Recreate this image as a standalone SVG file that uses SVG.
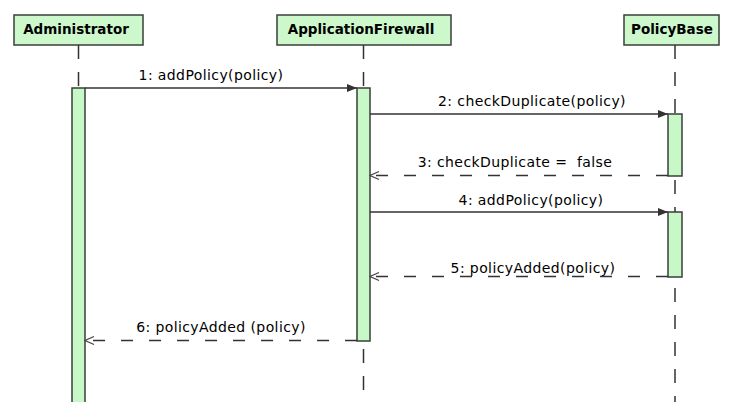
<svg xmlns="http://www.w3.org/2000/svg" width="741" height="402" viewBox="0 0 741 402">
  <style>
    .head { fill: #ccf8cc; stroke: #3a3f3a; stroke-width: 1.5; }
    .act { fill: #c8f8c8; stroke: #3a3f3a; stroke-width: 1.5; }
    .life { stroke: #333; stroke-width: 1.5; stroke-dasharray: 14 13; fill: none; }
    .htext { font-family: "DejaVu Sans", Verdana, sans-serif; font-weight: bold; font-size: 13.5px; fill: #000; text-anchor: middle; }
    .mtext { font-family: "DejaVu Sans", Verdana, sans-serif; font-size: 14px; letter-spacing: 0.4px; fill: #000; text-anchor: middle; white-space: pre; }
    .call { stroke: #333; stroke-width: 1.6; fill: none; marker-end: url(#solid); }
    .ret { stroke: #333; stroke-width: 1.6; fill: none; stroke-dasharray: 12 16; marker-end: url(#open); }
  </style>
  <defs>
    <marker id="solid" markerWidth="11" markerHeight="9" refX="10" refY="4" orient="auto" markerUnits="userSpaceOnUse">
      <path d="M0,0 L10,4 L0,8 z" fill="#333"/>
    </marker>
    <marker id="open" markerWidth="11" markerHeight="11" refX="9.5" refY="5" orient="auto" markerUnits="userSpaceOnUse">
      <path d="M0.5,1 L9.5,5 L0.5,9" fill="none" stroke="#444" stroke-width="1.3"/>
    </marker>
  </defs>
  <rect x="0" y="0" width="741" height="402" fill="#fff"/>

  <g id="administrator">
    <line class="life" x1="78.5" y1="45" x2="78.5" y2="88"/>
    <rect class="head" x="14" y="15" width="129" height="30"/>
    <text class="htext" x="76" y="34">Administrator</text>
    <rect class="act" x="72" y="88" width="13" height="320"/>
  </g>

  <g id="applicationfirewall">
    <line class="life" x1="363.5" y1="45" x2="363.5" y2="88"/>
    <line class="life" x1="363.5" y1="349" x2="363.5" y2="402"/>
    <rect class="head" x="277" y="15" width="174" height="30"/>
    <text class="htext" x="361" y="34">ApplicationFirewall</text>
    <rect class="act" x="357" y="88" width="13" height="253"/>
  </g>

  <g id="policybase">
    <line class="life" x1="675" y1="45" x2="675" y2="402"/>
    <rect class="head" x="624" y="15" width="95" height="30"/>
    <text class="htext" x="672" y="34">PolicyBase</text>
    <rect class="act" x="668" y="114" width="14" height="62"/>
    <rect class="act" x="668" y="212" width="14" height="65"/>
  </g>

  <g id="connectors">
    <line class="call" x1="85" y1="88" x2="357" y2="88"/>
    <text class="mtext" x="211" y="80">1: addPolicy(policy)</text>

    <line class="call" x1="370" y1="114" x2="668" y2="114"/>
    <text class="mtext" x="532" y="106">2: checkDuplicate(policy)</text>

    <line class="ret" x1="668" y1="175.5" x2="370" y2="175.5"/>
    <text class="mtext" x="515" y="166.5" xml:space="preserve">3: checkDuplicate =  false</text>

    <line class="call" x1="370" y1="212" x2="668" y2="212"/>
    <text class="mtext" x="531" y="204.5">4: addPolicy(policy)</text>

    <line class="ret" x1="668" y1="276.5" x2="370" y2="276.5"/>
    <text class="mtext" x="533" y="273">5: policyAdded(policy)</text>

    <line class="ret" x1="357" y1="340.5" x2="85" y2="340.5"/>
    <text class="mtext" x="221" y="332">6: policyAdded (policy)</text>
  </g>
</svg>
